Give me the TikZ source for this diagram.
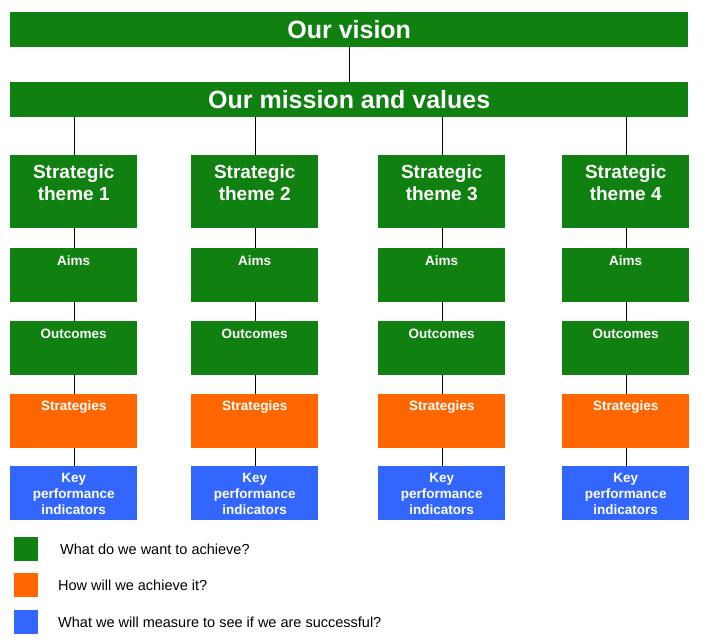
\documentclass[tikz,border=0pt]{standalone}
\usepackage{fontspec}
\setmainfont{Liberation Sans}
\usetikzlibrary{positioning}
\definecolor{boxgreen}{RGB}{16,128,16}
\definecolor{boxorange}{RGB}{255,102,0}
\definecolor{boxblue}{RGB}{51,102,255}
\tikzset{
  bar/.style={fill=boxgreen, text=white, font=\bfseries\fontsize{25}{27}\selectfont,
    minimum width=678pt, minimum height=35pt, anchor=north west, inner sep=0pt},
  cell/.style={minimum width=127pt, minimum height=#1, anchor=north west, inner sep=0pt},
  celltxt/.style={text=white, font=\bfseries\fontsize{13.5}{16}\selectfont, align=center, anchor=north, inner sep=0pt},
  key/.style={minimum size=24pt, anchor=north west, inner sep=0pt},
  keytxt/.style={font=\fontsize{14.5}{16}\selectfont, anchor=west, inner sep=0pt}
}
\begin{document}
\begin{tikzpicture}[x=1pt,y=-1pt]
  \useasboundingbox[fill=white] (0,0) rectangle (707,644);
  % bars
  \node[bar] (vision) at (10,12) {Our vision};
  \node[bar] (mission) at (10,82) {Our mission and values};
  \draw (vision.south) -- (mission.north);
  % columns
  \foreach \n/\x in {1/10,2/191,3/378,4/562}{
    \node[cell=73pt, fill=boxgreen] (th\n) at (\x,155) {};
    \node[text=white, align=center, inner sep=0pt,
      font=\bfseries\fontsize{19}{22}\selectfont] (tht\n) at ([yshift=9pt]th\n.center) {Strategic\\theme \n};
    \node[cell=54pt, fill=boxgreen] (aim\n) at (\x,248) {};
    \node[cell=54pt, fill=boxgreen] (out\n) at (\x,321) {};
    \node[cell=54pt, fill=boxorange] (str\n) at (\x,394) {};
    \node[cell=54pt, fill=boxblue] (kpi\n) at (\x,466) {};
    \node[celltxt] (aimt\n) at ([yshift=-8pt]aim\n.north) {Aims};
    \node[celltxt] (outt\n) at ([yshift=-8pt]out\n.north) {Outcomes};
    \node[celltxt] (strt\n) at ([yshift=-7pt]str\n.north) {Strategies};
    \node[celltxt, font=\bfseries\fontsize{13.5}{16}\selectfont] (kpit\n) at ([yshift=-7pt]kpi\n.north) {Key\\performance\\indicators};
    \draw (th\n.north) -- (th\n.north |- mission.south);
    \draw (th\n.south) -- (aim\n.north);
    \draw (aim\n.south) -- (out\n.north);
    \draw (out\n.south) -- (str\n.north);
    \draw (str\n.south) -- (kpi\n.north);
  }
  % legend
  \node[key, fill=boxgreen] (keyg) at (14,537) {};
  \node[key, fill=boxorange] (keyo) at (14,573) {};
  \node[key, fill=boxblue] (keyb) at (14,610) {};
  \node[keytxt] (keygt) at (60,549) {What do we want to achieve?};
  \node[keytxt] (keyot) at (58,585) {How will we achieve it?};
  \node[keytxt] (keybt) at (58,622) {What we will measure to see if we are successful?};
\end{tikzpicture}
\end{document}
